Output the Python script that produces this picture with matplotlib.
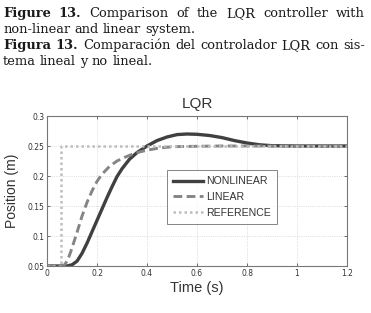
import matplotlib
matplotlib.use("Agg")
import matplotlib.pyplot as plt

# Response of the cart position
t_nonlinear = [0, 0.08, 0.10, 0.12, 0.14, 0.16, 0.18, 0.20, 0.22, 0.24, 0.26, 0.28,
               0.30, 0.33, 0.36, 0.40, 0.44, 0.48, 0.52, 0.56, 0.60, 0.65, 0.70,
               0.75, 0.80, 0.85, 0.90, 1.0, 1.2]
y_nonlinear = [0.05, 0.05, 0.052, 0.058, 0.071, 0.088, 0.107, 0.126, 0.145, 0.164,
               0.182, 0.199, 0.212, 0.228, 0.239, 0.250, 0.259, 0.265, 0.269, 0.270,
               0.2695, 0.2675, 0.264, 0.259, 0.255, 0.252, 0.2505, 0.25, 0.25]

t_linear = [0, 0.06, 0.07, 0.08, 0.09, 0.10, 0.12, 0.14, 0.16, 0.18, 0.20, 0.22,
            0.25, 0.28, 0.31, 0.34, 0.37, 0.40, 0.44, 0.48, 0.52, 0.6, 0.7, 0.8, 1.2]
y_linear = [0.05, 0.05, 0.052, 0.058, 0.068, 0.080, 0.106, 0.133, 0.156, 0.175,
            0.191, 0.203, 0.216, 0.225, 0.231, 0.236, 0.240, 0.243, 0.246, 0.248,
            0.249, 0.2495, 0.25, 0.25, 0.25]

t_reference = [0, 0.056, 0.056, 1.2]
y_reference = [0.05, 0.05, 0.25, 0.25]

x_ticks = [0, 0.2, 0.4, 0.6, 0.8, 1, 1.2]
x_labels = ["0", "0.2", "0.4", "0.6", "0.8", "1", "1.2"]
y_ticks = [0.05, 0.1, 0.15, 0.2, 0.25, 0.3]
y_labels = ["0.05", "0.1", "0.15", "0.2", "0.25", "0.3"]

caption = [
    ([("Figure", "bold"), ("13.", "bold"), ("Comparison", "normal"), ("of", "normal"),
      ("the", "normal"), ("LQR", "normal"), ("controller", "normal"), ("with", "normal")], True),
    ([("non-linear", "normal"), ("and", "normal"), ("linear", "normal"), ("system.", "normal")], False),
    ([("Figura", "bold"), ("13.", "bold"), ("Comparación", "normal"), ("del", "normal"),
      ("controlador", "normal"), ("LQR", "normal"), ("con", "normal"), ("sis-", "normal")], True),
    ([("tema", "normal"), ("lineal", "normal"), ("y", "normal"), ("no", "normal"),
      ("lineal.", "normal")], False),
]

W, H = 371, 313
fig = plt.figure(figsize=(W / 100, H / 100), dpi=100)
fig.patch.set_facecolor("white")

# caption, justified like the journal layout
renderer = fig.canvas.get_renderer()
cap_font = dict(family="DejaVu Serif", fontsize=9.4, color="#1a1a1a")
x_left, x_right = 3, 365
baselines = [17, 33, 49, 65]
for (words, justify), yb in zip(caption, baselines):
    texts = []
    for w, weight in words:
        txt = fig.text(0, 1 - yb / H, w, fontweight=weight, va="baseline", ha="left", **cap_font)
        texts.append(txt)
    widths = [t.get_window_extent(renderer).width for t in texts]
    if justify:
        gap = (x_right - x_left - sum(widths)) / (len(texts) - 1)
    else:
        gap = 4.2
    x = x_left
    for txt, wd in zip(texts, widths):
        txt.set_x(x / W)
        x += wd + gap

ax = fig.add_axes([47 / W, 1 - 266 / H, 300 / W, 150 / H])

ax.plot(t_nonlinear, y_nonlinear, color="#404040", lw=2.4, label="NONLINEAR")
ax.plot(t_linear, y_linear, color="#858585", lw=2.1, ls=(0, (3, 1.5)), label="LINEAR")
ax.plot(t_reference, y_reference, color="#bdbdbd", lw=1.8, ls=(0, (1, 1.2)), label="REFERENCE")

ax.set_xlim(0, 1.2)
ax.set_ylim(0.05, 0.3)
ax.set_xticks(x_ticks)
ax.set_xticklabels(x_labels)
ax.set_yticks(y_ticks)
ax.set_yticklabels(y_labels)
ax.tick_params(direction="in", length=2.5, width=0.6, labelsize=5.5, colors="#555555",
               labelcolor="#333333", top=True, right=True, pad=2)
ax.grid(True, ls=":", color="#d0d0d0", lw=0.6)
for sp in ax.spines.values():
    sp.set_color("#777777")
    sp.set_linewidth(0.8)

ax.set_title("LQR", family="Liberation Sans", fontsize=11, color="#333333", pad=6)
ax.set_xlabel("Time (s)", family="Liberation Sans", fontsize=10.5, color="#333333", labelpad=2)
ax.set_ylabel("Position (m)", family="Liberation Sans", fontsize=10, color="#333333", labelpad=6)

leg = ax.legend(loc="upper left", bbox_to_anchor=(0.40, 0.64),
                prop=dict(family="Liberation Sans", size=7.6), frameon=True, fancybox=False,
                edgecolor="#666666", handlelength=2.8, handletextpad=0.3, labelspacing=0.55,
                borderpad=0.6, borderaxespad=0)
leg.get_frame().set_linewidth(0.7)
for txt in leg.get_texts():
    txt.set_color("#333333")

fig.savefig("out.png", dpi=100, facecolor="white")
